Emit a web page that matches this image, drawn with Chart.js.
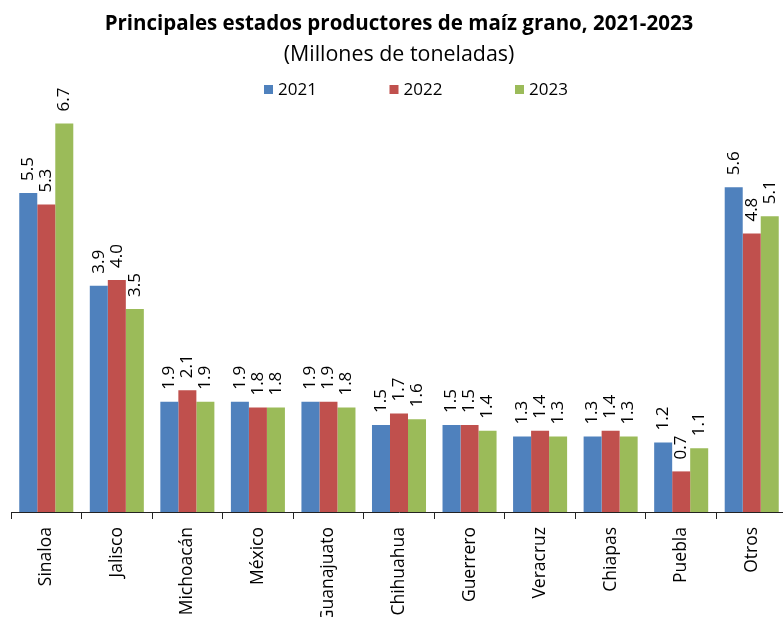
<!DOCTYPE html>
<html>
<head>
<meta charset="utf-8">
<script src="https://cdn.jsdelivr.net/npm/chart.js@4"></script>
<style>
  html, body { margin: 0; padding: 0; background: #fff; overflow: hidden; }
  canvas { display: block; }
</style>
</head>
<body>
<canvas id="myChart" width="787" height="617"></canvas>
<script>
var estados = ['Sinaloa', 'Jalisco', 'Michoacán', 'México', 'Guanajuato', 'Chihuahua', 'Guerrero', 'Veracruz', 'Chiapas', 'Puebla', 'Otros'];
var prod2021 = [5.5, 3.9, 1.9, 1.9, 1.9, 1.5, 1.5, 1.3, 1.3, 1.2, 5.6];
var prod2022 = [5.3, 4.0, 2.1, 1.8, 1.9, 1.7, 1.5, 1.4, 1.4, 0.7, 4.8];
var prod2023 = [6.7, 3.5, 1.9, 1.8, 1.8, 1.6, 1.4, 1.3, 1.3, 1.1, 5.1];

var FONT = '"Open Sans", sans-serif';

// value labels, rotated, above each bar
var barLabels = {
    id: 'barLabels',
    afterDatasetsDraw: function (chart) {
        var ctx = chart.ctx;
        ctx.save();
        ctx.font = '17px ' + FONT;
        ctx.fillStyle = '#000';
        ctx.textAlign = 'left';
        ctx.textBaseline = 'middle';
        chart.data.datasets.forEach(function (ds, i) {
            chart.getDatasetMeta(i).data.forEach(function (bar, j) {
                ctx.save();
                ctx.translate(bar.x, bar.y - 12);
                ctx.rotate(-Math.PI / 2);
                ctx.fillText(ds.data[j].toFixed(1), 0, 0);
                ctx.restore();
            });
        });
        ctx.restore();
    }
};

// legend with the wide spacing of the original
var wideLegend = {
    id: 'wideLegend',
    afterDraw: function (chart) {
        var ctx = chart.ctx;
        ctx.save();
        ctx.font = '17px ' + FONT;
        ctx.textBaseline = 'middle';
        ctx.textAlign = 'left';
        chart.data.datasets.forEach(function (ds, i) {
            var x = 264 + i * 125.5;
            ctx.fillStyle = ds.backgroundColor;
            ctx.fillRect(x, 85, 9, 9);
            ctx.fillStyle = '#000';
            ctx.fillText(ds.label, x + 14, 90);
        });
        ctx.restore();
    }
};

var ctx = document.getElementById('myChart').getContext('2d');
var myChart = new Chart(ctx, {
    type: 'bar',
    data: {
        labels: estados,
        datasets: [{
            label: '2021',
            data: prod2021,
            backgroundColor: '#4F81BD'
        },
        {
            label: '2022',
            data: prod2022,
            backgroundColor: '#C0504D'
        },
        {
            label: '2023',
            data: prod2023,
            backgroundColor: '#9BBB59'
        }]
    },
    options: {
        responsive: false,
        animation: false,
        categoryPercentage: 0.766,
        barPercentage: 1,
        layout: {
            padding: { left: 11, right: 0, top: 0, bottom: 0 }
        },
        plugins: {
            legend: { display: false },
            tooltip: { enabled: false },
            title: {
                display: true,
                text: 'Principales estados productores de maíz grano, 2021-2023',
                color: '#000',
                font: { family: FONT, size: 20.5, weight: 'bold' },
                padding: { top: 11.7, bottom: 0 }
            },
            subtitle: {
                display: true,
                text: '(Millones de toneladas)',
                color: '#000',
                font: { family: FONT, size: 21.4 },
                padding: { top: 5.8, bottom: 38.2 }
            }
        },
        scales: {
            y: {
                display: false,
                min: 0,
                max: 7
            },
            x: {
                grid: {
                    drawOnChartArea: false,
                    color: '#222',
                    tickLength: 7
                },
                border: { color: '#222', width: 1 },
                ticks: {
                    color: '#000',
                    font: { family: FONT, size: 17.5 },
                    minRotation: 90,
                    maxRotation: 90,
                    padding: 8,
                    autoSkip: false
                },
                afterFit: function (scale) {
                    scale.height = 105;
                }
            }
        }
    },
    plugins: [barLabels, wideLegend]
});
</script>
</body>
</html>
